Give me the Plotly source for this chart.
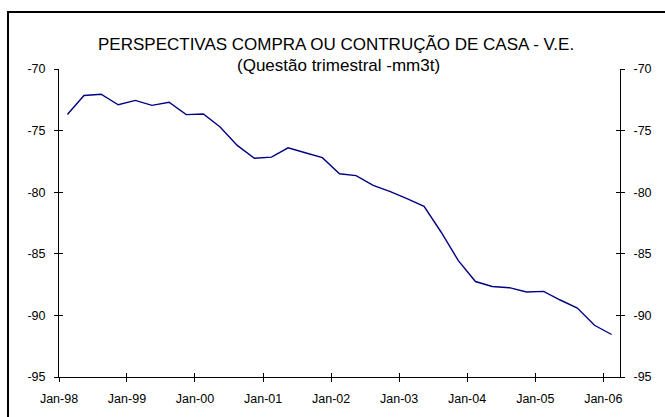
import plotly.graph_objects as go

dates = [
    "1998-02-15", "1998-05-15", "1998-08-15", "1998-11-15",
    "1999-02-15", "1999-05-15", "1999-08-15", "1999-11-15",
    "2000-02-15", "2000-05-15", "2000-08-15", "2000-11-15",
    "2001-02-15", "2001-05-15", "2001-08-15", "2001-11-15",
    "2002-02-15", "2002-05-15", "2002-08-15", "2002-11-15",
    "2003-02-15", "2003-05-15", "2003-08-15", "2003-11-15",
    "2004-02-15", "2004-05-15", "2004-08-15", "2004-11-15",
    "2005-02-15", "2005-05-15", "2005-08-15", "2005-11-15",
    "2006-02-15",
]
values = [
    -73.7, -72.15, -72.05, -72.9, -72.55, -72.95, -72.7, -73.7,
    -73.65, -74.7, -76.2, -77.25, -77.15, -76.4, -76.8, -77.2,
    -78.5, -78.65, -79.45, -79.95, -80.55, -81.15, -83.25, -85.55,
    -87.25, -87.65, -87.75, -88.1, -88.05, -88.75, -89.4, -90.8,
    -91.55,
]
x_tickvals = ["1998-01-01", "1999-01-01", "2000-01-01", "2001-01-01", "2002-01-01",
              "2003-01-01", "2004-01-01", "2005-01-01", "2006-01-01"]
x_ticktext = ["Jan-98", "Jan-99", "Jan-00", "Jan-01", "Jan-02",
              "Jan-03", "Jan-04", "Jan-05", "Jan-06"]
y_tickvals = [-95, -90, -85, -80, -75, -70]
y_ticktext = ["-95", "-90", "-85", "-80", "-75", "-70"]
title_text = "PERSPECTIVAS COMPRA OU CONTRUÇÃO DE CASA - V.E."
subtitle_text = "(Questão trimestral -mm3t)"

FONT = "Liberation Sans, Arial, sans-serif"
XR = ["1998-01-01", "2006-04-01"]
YR = [-95, -70]
W, H = 665, 417
ML, MR, MT, MB = 59, 45, 69, 40
PW, PH = W - ML - MR, H - MT - MB

fig = go.Figure()
# visible series
fig.add_trace(go.Scatter(x=dates, y=values, mode="lines", xaxis="x", yaxis="y",
                         line=dict(color="#000080", width=1.4), hoverinfo="skip",
                         showlegend=False))
# invisible copies to activate overlay axes (for cross tick marks)
for xa, ya in [("x", "y2"), ("x2", "y3"), ("x2", "y4")]:
    fig.add_trace(go.Scatter(x=dates, y=values, mode="lines", xaxis=xa, yaxis=ya,
                             line=dict(color="rgba(0,0,0,0)", width=0), hoverinfo="skip",
                             showlegend=False))

tickfont = dict(family=FONT, size=12.5, color="black")
common_x = dict(type="date", range=XR, tickvals=x_tickvals, showgrid=False,
                zeroline=False, linecolor="black", linewidth=1, tickcolor="black",
                ticklen=4, tickwidth=1)
common_y = dict(range=YR, tickvals=y_tickvals, ticktext=y_ticktext, showgrid=False,
                zeroline=False, linecolor="black", linewidth=1, tickcolor="black",
                ticklen=4, tickwidth=1)

fig.update_layout(
    width=W, height=H,
    margin=dict(l=ML, r=MR, t=MT, b=MB, autoexpand=False),
    paper_bgcolor="white", plot_bgcolor="white",
    showlegend=False,
    xaxis=dict(**common_x, ticktext=x_ticktext, ticks="outside", showline=True,
               tickfont=tickfont, ticklabelstandoff=6, anchor="y"),
    xaxis2=dict(**common_x, ticks="inside", showline=False, showticklabels=False,
                overlaying="x", anchor="y3", side="bottom"),
    yaxis=dict(**common_y, ticks="outside", showline=True, tickfont=tickfont,
               ticklabelstandoff=6, side="left", anchor="x"),
    yaxis2=dict(**common_y, ticks="outside", showline=True, tickfont=tickfont,
                ticklabelstandoff=6, side="right", overlaying="y", anchor="x"),
    yaxis3=dict(**common_y, ticks="inside", showline=False, showticklabels=False,
                side="left", overlaying="y", anchor="x2"),
    yaxis4=dict(**common_y, ticks="inside", showline=False, showticklabels=False,
                side="right", overlaying="y", anchor="x2"),
    annotations=[
        dict(text=title_text, xref="paper", yref="paper",
             x=(336 - ML) / PW, y=(H - MB - 45) / PH, xanchor="center", yanchor="middle",
             showarrow=False, font=dict(family=FONT, size=17, color="black")),
        dict(text=subtitle_text, xref="paper", yref="paper",
             x=(338 - ML) / PW, y=(H - MB - 66) / PH, xanchor="center", yanchor="middle",
             showarrow=False, font=dict(family=FONT, size=17, color="black")),
    ],
    shapes=[
        dict(type="rect", xref="paper", yref="paper",
             x0=(8 - ML) / PW, x1=(700 - ML) / PW,
             y0=(H - MB - 450) / PH, y1=(H - MB - 12) / PH,
             line=dict(color="black", width=2), fillcolor="rgba(0,0,0,0)", layer="below"),
    ],
)

fig.write_html("out.html", config={"displayModeBar": False},
               post_script="document.body.style.margin='0px';document.body.style.overflow='hidden';")
